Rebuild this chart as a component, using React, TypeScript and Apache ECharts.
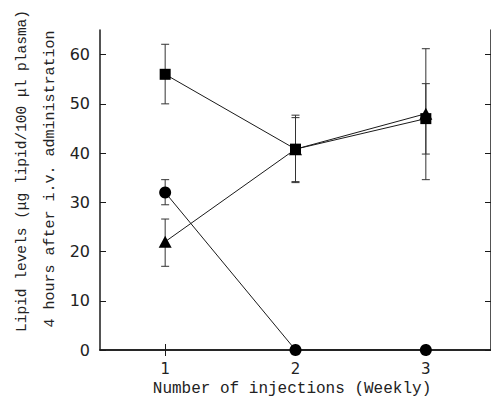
import React, { useEffect, useRef } from "react";
import * as echarts from "echarts";

const weeks = [1, 2, 3];
const yTicks = [0, 10, 20, 30, 40, 50, 60];

const squareMean = [56, 40.8, 47];
const squareLow = [50, 34, 39.8];
const squareHigh = [62.1, 47.7, 54.1];

const triangleMean = [22, 40.8, 48];
const triangleLow = [17, 34.2, 34.6];
const triangleHigh = [26.6, 47.2, 61.2];

const circleMean = [32, 0, 0];
const circleLow = [29.5, 0, 0];
const circleHigh = [34.6, 0, 0];

const xTitle = "Number of injections (Weekly)";
const yTitle1 = "Lipid levels (μg lipid/100 μl plasma)";
const yTitle2 = "4 hours after i.v. administration";

const INK = "#1a1a1a";
const MONO = "'Liberation Mono', 'Courier New', Courier, monospace";

function pts(mean: number[]) {
  return weeks.map((w, i) => [w, mean[i]]);
}
function errs(lo: number[], hi: number[]) {
  return weeks.map((w, i) => [w, lo[i], hi[i]]).filter((d) => d[2] - d[1] > 0.01);
}

const errorRender = (params: any, api: any) => {
  const x = api.value(0);
  const lo = api.coord([x, api.value(1)]);
  const hi = api.coord([x, api.value(2)]);
  const hw = 4;
  const st = { stroke: "#333", lineWidth: 1 };
  return {
    type: "group",
    children: [
      { type: "line", shape: { x1: lo[0], y1: lo[1], x2: hi[0], y2: hi[1] }, style: st },
      { type: "line", shape: { x1: lo[0] - hw, y1: lo[1], x2: lo[0] + hw, y2: lo[1] }, style: st },
      { type: "line", shape: { x1: hi[0] - hw, y1: hi[1], x2: hi[0] + hw, y2: hi[1] }, style: st },
    ],
  };
};

export default function App() {
  const ref = useRef<HTMLDivElement>(null);
  useEffect(() => {
    if (!ref.current) return;
    const chart = echarts.init(ref.current, undefined, { renderer: "svg" });
    const axisLine = { show: true, lineStyle: { color: INK, width: 1.5 } };
    const tick = { show: true, inside: true, length: 6, lineStyle: { color: INK, width: 1 } };
    chart.setOption({
      animation: false,
      backgroundColor: "#ffffff",
      grid: { left: 100, top: 30, right: -2, bottom: 54, containLabel: false },
      xAxis: [
        {
          type: "value",
          min: 0.5,
          max: 3.5,
          position: "bottom",
          axisLine,
          axisTick: { ...tick, customValues: weeks },
          axisLabel: {
            customValues: weeks,
            margin: 11,
            fontFamily: "DejaVu Sans",
            fontSize: 15,
            color: "#222",
          },
          splitLine: { show: false },
        },
        {
          type: "value",
          min: 0.5,
          max: 3.5,
          position: "top",
          axisLine,
          axisTick: { ...tick, customValues: weeks },
          axisLabel: { show: false },
          splitLine: { show: false },
        },
      ],
      yAxis: [
        {
          type: "value",
          min: 0,
          max: 65,
          position: "left",
          axisLine,
          axisTick: { ...tick, customValues: yTicks },
          axisLabel: {
            customValues: yTicks,
            margin: 10,
            fontFamily: "DejaVu Sans",
            fontSize: 16,
            color: "#222",
          },
          splitLine: { show: false },
        },
        {
          type: "value",
          min: 0,
          max: 65,
          position: "right",
          axisLine,
          axisTick: { ...tick, customValues: yTicks },
          axisLabel: { show: false },
          splitLine: { show: false },
        },
      ],
      graphic: [
        {
          type: "text",
          x: 22,
          y: 171,
          rotation: Math.PI / 2,
          style: {
            text: yTitle1,
            fontFamily: MONO,
            fontSize: 14.5,
            fill: "#222",
            align: "center",
            verticalAlign: "middle",
          },
        },
        {
          type: "text",
          x: 50,
          y: 179,
          rotation: Math.PI / 2,
          style: {
            text: yTitle2,
            fontFamily: MONO,
            fontSize: 15,
            fill: "#222",
            align: "center",
            verticalAlign: "middle",
          },
        },
        {
          type: "text",
          x: 292,
          y: 389,
          style: {
            text: xTitle,
            fontFamily: MONO,
            fontSize: 16,
            fill: "#222",
            align: "center",
            verticalAlign: "middle",
          },
        },
      ],
      series: [
        { type: "custom", renderItem: errorRender, data: errs(circleLow, circleHigh), encode: { x: 0, y: [1, 2] }, z: 1 },
        { type: "custom", renderItem: errorRender, data: errs(triangleLow, triangleHigh), encode: { x: 0, y: [1, 2] }, z: 1 },
        { type: "custom", renderItem: errorRender, data: errs(squareLow, squareHigh), encode: { x: 0, y: [1, 2] }, z: 1 },
        {
          type: "line",
          data: pts(circleMean),
          symbol: "circle",
          symbolSize: 12,
          lineStyle: { color: INK, width: 1 },
          itemStyle: { color: "#000" },
          z: 3,
        },
        {
          type: "line",
          data: pts(squareMean),
          symbol: "rect",
          symbolSize: 11,
          lineStyle: { color: INK, width: 1 },
          itemStyle: { color: "#000" },
          z: 3,
        },
        {
          type: "line",
          data: pts(triangleMean),
          symbol: "triangle",
          symbolSize: [13, 12],
          lineStyle: { color: INK, width: 1 },
          itemStyle: { color: "#000" },
          z: 3,
        },
      ],
    });
    return () => chart.dispose();
  }, []);
  return <div ref={ref} style={{ width: 491, height: 404, position: "absolute", left: 0, top: 0 }} />;
}
